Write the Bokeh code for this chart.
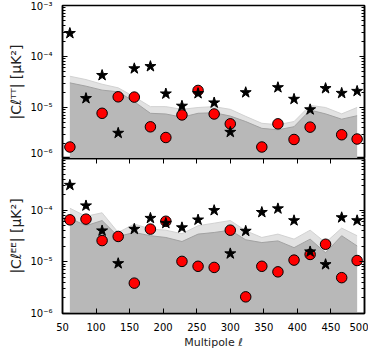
import math
from bokeh.plotting import figure
from bokeh.layouts import column
from bokeh.models import FixedTicker, LogAxis, LinearAxis, CustomJSTickFormatter, Range1d
from bokeh.embed import file_html
from bokeh.resources import INLINE

nan = float("nan")

# Multipole bin centres
ell = [61, 85, 109, 133, 157, 181, 204, 228, 252, 276, 300, 323, 347, 371, 395, 419, 442, 466, 489]

# TT panel
tt_star = [2.85e-4, 1.51e-5, 4.28e-5, 3.15e-6, 5.8e-5, 6.4e-5, 1.86e-5, 1.07e-5, 1.89e-5, 1.24e-5,
           3.29e-6, 1.97e-5, nan, 2.47e-5, 1.46e-5, 9.1e-6, 2.37e-5, 1.91e-5, 2.09e-5]
tt_red = [1.68e-6, nan, 7.7e-6, 1.62e-5, 1.6e-5, 4.18e-6, 2.58e-6, 7.15e-6, 2.16e-5, 7.46e-6,
          4.78e-6, nan, 1.68e-6, 4.78e-6, 2.36e-6, 4.12e-6, nan, 2.92e-6, 2.41e-6]
tt_band1 = [3.04e-5, 2.62e-5, 2.19e-5, 2.03e-5, 1.3e-5, 7.7e-6, 7.46e-6, 6.45e-6, 7.7e-6, 7.9e-6,
            6.8e-6, 5.3e-6, 3.9e-6, 3.65e-6, 4.2e-6, 8.9e-6, 7.5e-6, 5.9e-6, 6.9e-6]
tt_band2 = [4.1e-5, 3.53e-5, 2.86e-5, 2.43e-5, 1.62e-5, 1.04e-5, 1.04e-5, 9.2e-6, 1.0e-5, 1.04e-5,
            9.2e-6, 6.7e-6, 4.9e-6, 4.6e-6, 5.3e-6, 1.1e-5, 1.0e-5, 7.5e-6, 1.0e-5]

# EE panel
ee_star = [3.05e-4, 1.22e-4, 4.0e-5, 9.3e-6, 4.3e-5, 7.0e-5, 5.6e-5, 4.6e-5, 6.5e-5, 9.9e-5,
           1.44e-5, 3.94e-5, 9.1e-5, 1.07e-4, 6.3e-5, 1.57e-5, 8.9e-6, 7.2e-5, 6.3e-5]
ee_red = [6.5e-5, 6.7e-5, 2.58e-5, 3.1e-5, 3.87e-6, 4.3e-5, 6.1e-5, 1.02e-5, 8.2e-6, 7.8e-6,
          4.1e-5, 2.1e-6, 8.2e-6, 6.4e-6, 1.08e-5, 1.39e-5, 2.19e-5, 4.94e-6, 1.06e-5]
ee_band1 = [7.0e-5, 5.0e-5, 6.3e-5, 3.1e-5, 3.7e-5, 3.2e-5, 2.96e-5, 2.47e-5, 3.44e-5, 3.7e-5,
            4.1e-5, 2.67e-5, 2.36e-5, 2.54e-5, 1.88e-5, 2.75e-5, 1.5e-5, 3.2e-5, 2.03e-5]
ee_band2 = [1.09e-4, 7.6e-5, 8.9e-5, 3.7e-5, 5.4e-5, 4.3e-5, 4.1e-5, 3.5e-5, 5.0e-5, 5.6e-5,
            6.3e-5, 4.0e-5, 2.96e-5, 3.44e-5, 2.75e-5, 4.1e-5, 2.36e-5, 4.5e-5, 3.2e-5]

x_ticks = [50, 100, 150, 200, 250, 300, 350, 400, 450, 500]
y_ticks_tt = [1e-6, 1e-5, 1e-4, 1e-3]
y_ticks_ee = [1e-6, 1e-5, 1e-4]
y_minor = [k * 10.0 ** e for e in (-6, -5, -4) for k in range(2, 10)]
band_floor = [1e-7] * len(ell)

FONT = "DejaVu Sans"
sup_code = """
const e = Math.round(Math.log10(tick));
const m = {'-':'\u207b','0':'\u2070','1':'\u00b9','2':'\u00b2','3':'\u00b3','4':'\u2074','5':'\u2075','6':'\u2076','7':'\u2077','8':'\u2078','9':'\u2079'};
return '10' + String(e).split('').map(c => m[c]).join('');
"""


def style_axis(ax, labels=True):
    ax.axis_line_width = 1.5
    ax.axis_line_color = "black"
    ax.major_tick_in = 5
    ax.major_tick_out = 0
    ax.minor_tick_in = 3
    ax.minor_tick_out = 0
    ax.major_tick_line_color = "black"
    ax.minor_tick_line_color = "black"
    if labels:
        ax.major_label_text_font = FONT
        ax.major_label_text_font_size = "10px"
        ax.major_label_text_color = "black"
    else:
        ax.major_label_text_font_size = "1px"
        ax.major_label_text_color = None
        ax.major_label_standoff = 0


def make_panel(star, red, band1, band2, yticks, ylabel, bottom):
    p = figure(frame_width=302, frame_height=(155 if bottom else 153),
               y_axis_type="log", x_axis_location=("below" if bottom else None),
               x_range=Range1d(50, 500), y_range=Range1d(1e-6, 1e-3),
               output_backend="svg", toolbar_location=None,
               min_border_left=62, min_border_right=4,
               min_border_top=(0 if bottom else 5), min_border_bottom=(0 if not bottom else 4))
    p.xgrid.visible = False
    p.ygrid.visible = False
    p.outline_line_color = "black"
    p.outline_line_width = 1.5
    p.background_fill_color = "white"
    p.border_fill_color = "white"

    # bands
    p.varea(x=ell, y1=band_floor, y2=band2, fill_color="#e2e2e2")
    p.line(x=ell, y=band2, line_color="#d2d2d2", line_width=1)
    p.varea(x=ell, y1=band_floor, y2=band1, fill_color="#b8b8b8")
    p.line(x=ell, y=band1, line_color="#a2a2a2", line_width=1)

    # points
    p.scatter(x=ell, y=red, marker="circle", size=10.5, fill_color="#ff0000",
              line_color="black", line_width=1)
    p.scatter(x=ell, y=star, marker="star", size=11.5, fill_color="black", line_color="black")

    yt = FixedTicker(ticks=yticks, minor_ticks=y_minor)
    yax = p.yaxis[0]
    yax.ticker = yt
    yax.formatter = CustomJSTickFormatter(code=sup_code)
    style_axis(yax)
    yax.major_label_standoff = 10
    yax.axis_label = ylabel
    yax.axis_label_text_font = FONT
    yax.axis_label_text_font_size = "14px"
    yax.axis_label_text_font_style = "normal"
    yax.axis_label_text_color = "#222222"
    yax.axis_label_standoff = 3

    rax = LogAxis(ticker=FixedTicker(ticks=yticks, minor_ticks=y_minor))
    style_axis(rax, labels=False)
    p.add_layout(rax, "right")

    if bottom:
        xax = p.xaxis[0]
        xax.ticker = FixedTicker(ticks=x_ticks, minor_ticks=[])
        style_axis(xax)
        xax.major_label_standoff = 9
        xax.axis_label = "Multipole \u2113"
        xax.axis_label_text_font = FONT
        xax.axis_label_text_font_size = "11px"
        xax.axis_label_text_font_style = "normal"
        xax.axis_label_text_color = "#222222"
        xax.axis_label_standoff = 2
        tax = LinearAxis(ticker=FixedTicker(ticks=x_ticks, minor_ticks=[]))
        style_axis(tax, labels=False)
        p.add_layout(tax, "above")
    return p


p1 = make_panel(tt_star, tt_red, tt_band1, tt_band2, y_ticks_tt,
                "|C\u2113\u1d40\u1d40| [\u03bcK\u00b2]", False)
p2 = make_panel(ee_star, ee_red, ee_band1, ee_band2, y_ticks_ee,
                "|C\u2113\u1d31\u1d31| [\u03bcK\u00b2]", True)

layout = column(p1, p2, spacing=0)
open("out.html", "w").write(file_html(layout, INLINE))
